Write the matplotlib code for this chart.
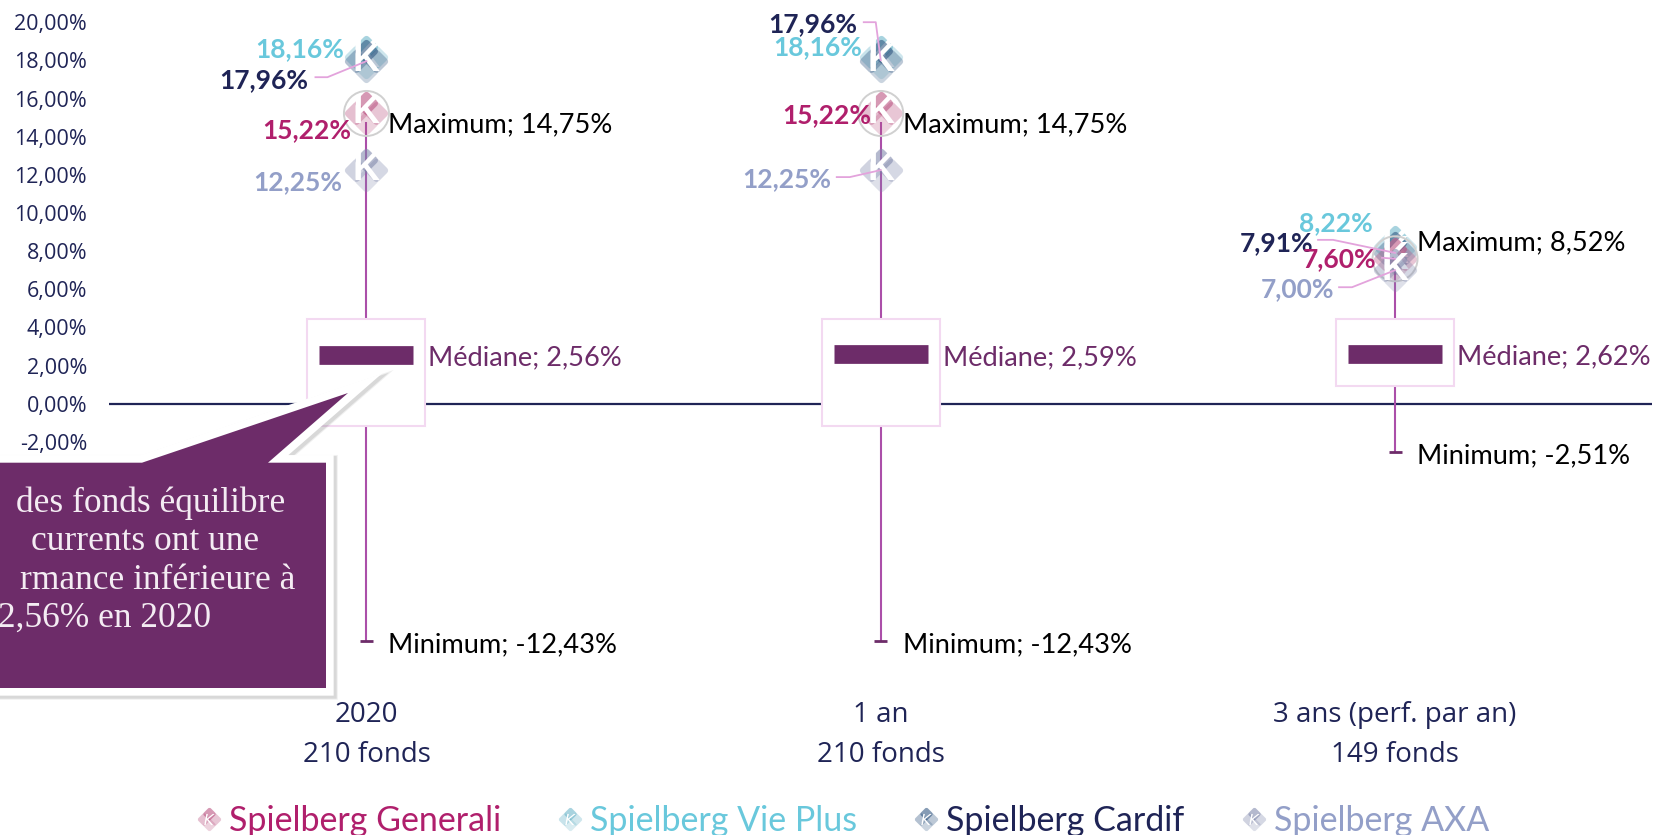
import matplotlib
matplotlib.use('Agg')
import matplotlib.pyplot as plt
import numpy as np
from matplotlib.legend_handler import HandlerTuple
from matplotlib.lines import Line2D
from matplotlib.patches import Polygon, Rectangle
from matplotlib.path import Path
from matplotlib.transforms import Affine2D

# Data
categories = ['2020', '1 an', '3 ans (perf. par an)']
fund_counts = [210, 210, 149]
maximum = [14.75, 14.75, 8.52]
minimum = [-12.43, -12.43, -2.51]
median = [2.56, 2.59, 2.62]
box_low = [-1.19, -1.19, 0.94]
box_high = [4.46, 4.46, 4.46]

spielberg_vie_plus = [18.16, 18.16, 8.22]
spielberg_cardif = [17.96, 17.96, 7.91]
spielberg_generali = [15.22, 15.22, 7.60]
spielberg_axa = [12.25, 12.25, 7.00]

y_ticks = [20, 18, 16, 14, 12, 10, 8, 6, 4, 2, 0, -2]

callout_lines = ['des fonds équilibre', 'currents ont une', 'rmance inférieure à', '2,56% en 2020']

# Layout, in pixels
W, H = 1655, 835
AX_LEFT, AX_RIGHT = 109.3, 1652.2
AX_TOP, AX_BOTTOM = 22.3, 670.7

NAVY = '#1f2456'
PURPLE = '#6d2c69'
WHISKER = '#ab4fa9'
LEADER = '#e3a3dc'

# name, values, text colour, marker colour
funds = [
    ('Spielberg Vie Plus', spielberg_vie_plus, '#69c8dc', '#69b4c8'),
    ('Spielberg Cardif', spielberg_cardif, NAVY, '#2f5580'),
    ('Spielberg Generali', spielberg_generali, '#b01f6c', '#b9507f'),
    ('Spielberg AXA', spielberg_axa, '#939fc8', '#7f87ab'),
]

# label offsets from each point: (dx, dy) to right edge / vertical centre, by fund then category
label_offsets = {
    'Spielberg Vie Plus': [(-22, 8), (-19, 10), (-22, 24)],
    'Spielberg Cardif': [(-58, -19), (-23, 37), (-82, 10)],
    'Spielberg Generali': [(-15, -17), (-10, -2), (-19, 0)],
    'Spielberg AXA': [(-24, -12), (-50, -9), (-61, -19)],
}

# leader lines, same offsets: list of points relative to the marker
leaders = {
    'Spielberg Cardif': [[(-51, -16), (-39, -16), (0, 0)], [(-17, 39), (-5, 39), (0, 1)], [(-77, 13), (-62, 13), (0, 0)]],
    'Spielberg Generali': [None, None, [(-13, 1), (0, 0)]],
    'Spielberg AXA': [None, [(-44, -7), (-31, -7), (0, 0)], [(-56, -17), (-43, -17), (0, 0)]],
}


def lobe(cx, cy):
    # one rounded diamond of the logo
    r = 0.56
    k = 0.12
    pts = [(cx - r + k, cy + k), (cx - k, cy + r - k), (cx, cy + r), (cx + k, cy + r - k),
           (cx + r - k, cy + k), (cx + r, cy), (cx + r - k, cy - k), (cx + k, cy - r + k),
           (cx, cy - r), (cx - k, cy - r + k), (cx - r + k, cy - k), (cx - r, cy), (cx - r + k, cy + k)]
    codes = [Path.MOVETO, Path.LINETO, Path.CURVE3, Path.CURVE3, Path.LINETO, Path.CURVE3, Path.CURVE3,
             Path.LINETO, Path.CURVE3, Path.CURVE3, Path.LINETO, Path.CURVE3, Path.CURVE3]
    return Path(pts, codes)


lobes = [(lobe(0, -0.44), 0.25), (lobe(-0.44, 0), 0.36), (lobe(0.44, 0), 0.32), (lobe(0, 0.44), 0.58)]


def pct(v):
    return f'{v:.2f}%'.replace('.', ',')


plt.rcParams['font.family'] = ['Lato', 'DejaVu Sans']

fig = plt.figure(figsize=(W / 100, H / 100), dpi=100)
ax = fig.add_axes([AX_LEFT / W, 1 - AX_BOTTOM / H, (AX_RIGHT - AX_LEFT) / W, (AX_BOTTOM - AX_TOP) / H])
ax.set_xlim(-0.5, 2.5)
ax.set_ylim(-14, 20)
for s in ax.spines.values():
    s.set_visible(False)

x = np.arange(len(categories))

ax.set_yticks(y_ticks)
ax.set_yticklabels([pct(v) for v in y_ticks], fontfamily='Open Sans', fontsize=15.5, color=NAVY)
ax.set_xticks(x)
ax.set_xticklabels([f'{c}\n{n} fonds' for c, n in zip(categories, fund_counts)],
                   fontfamily='Open Sans', fontsize=20, color=NAVY, linespacing=1.55)
ax.tick_params(axis='y', length=0, pad=16)
ax.tick_params(axis='x', length=0, pad=22)

ax.axhline(0, color=NAVY, lw=1.6, zorder=1)

box_width = 118 / 514.3
bar_half = 47 / 514.3
for i in x:
    ax.plot([i, i], [minimum[i], maximum[i]], color=WHISKER, lw=1.5, zorder=2, solid_capstyle='butt')
    ax.add_patch(Rectangle((i - box_width / 2, box_low[i]), box_width, box_high[i] - box_low[i],
                           facecolor='white', edgecolor='#f3d9f1', lw=1.5, zorder=3))
    ax.plot([i - 6.5 / 514.3, i + 6.5 / 514.3], [minimum[i], minimum[i]], color=PURPLE, lw=2, zorder=3,
            solid_capstyle='butt')
ax.hlines(median, x - bar_half, x + bar_half, color=PURPLE, lw=13.5, zorder=4)


def data_offset(i, v):
    # pixel transform centred on a data point
    px, py = ax.transData.transform((i, v))
    return Affine2D().translate(px, py)


# Logo markers, K and value labels
z = 5
for name, values, text_color, marker_color in funds:
    for i, v in zip(x, values):
        for path, alpha in lobes:
            ax.scatter([i], [v], marker=path, s=1100, color=marker_color, alpha=alpha, linewidths=0,
                       zorder=z, clip_on=False)
        if name == 'Spielberg Generali':
            ax.scatter([i], [v], s=1050, facecolors='none', edgecolors='#d0d0d0', linewidths=1.4, zorder=z,
                       clip_on=False)
        ax.text(i, v, 'K', color='white', fontweight='bold', fontsize=27, ha='center', va='center',
                fontfamily='Liberation Sans', zorder=z + 0.5)
        z += 1

for name, values, text_color, marker_color in funds:
    for i, v in zip(x, values):
        if name in leaders and leaders[name][i] is not None:
            xs, ys = zip(*leaders[name][i])
            ax.add_line(Line2D(xs, ys, color=LEADER, lw=1.3, transform=data_offset(i, v), zorder=60,
                               clip_on=False))
        ax.annotate(pct(v), (i, v), xytext=label_offsets[name][i], textcoords='offset pixels', ha='right',
                    va='center', color=text_color, fontweight='bold', fontsize=19, zorder=61)

# Maximum, minimum and median labels
for i in x:
    ax.annotate(f'Maximum; {pct(maximum[i])}', (i, maximum[i]), xytext=(22, -2), textcoords='offset pixels',
                va='center', color='black', fontsize=19.6, zorder=62)
    ax.annotate(f'Minimum; {pct(minimum[i])}', (i, minimum[i]), xytext=(22, -4), textcoords='offset pixels',
                va='center', color='black', fontsize=19.6, zorder=62)
    ax.annotate(f'Médiane; {pct(median[i])}', (i, median[i]), xytext=(62, -3), textcoords='offset pixels',
                va='center', color=PURPLE, fontsize=19.6, zorder=62)

# Callout, in figure pixels with the origin top left
px = Affine2D().scale(1, -1).translate(0, H)
callout = [(-20, 462.7), (142, 462.7), (348, 393), (268, 462.7), (326, 462.7), (326, 688), (-20, 688)]
shadow = [(a + 2, b + 2) for a, b in callout]
for lw, alpha in [(14, 0.1), (12.5, 0.16)]:
    ax.add_patch(Polygon(shadow, closed=True, transform=px, facecolor='#666666', edgecolor='#666666', lw=lw,
                         alpha=alpha, zorder=70, clip_on=False, joinstyle='miter'))
ax.add_patch(Polygon(callout, closed=True, transform=px, facecolor='white', edgecolor='white', lw=11, zorder=71,
                     clip_on=False, joinstyle='miter'))
ax.add_patch(Polygon(callout, closed=True, transform=px, facecolor=PURPLE, edgecolor='none', zorder=72,
                     clip_on=False))
callout_right = [285, 259, 295, 211]
callout_base = [512, 550, 589, 627]
for line, r, b in zip(callout_lines, callout_right, callout_base):
    ax.text(r, b, line, transform=px, ha='right', va='baseline', color='#f4ecf3', fontfamily='Liberation Serif',
            fontsize=25.5, zorder=73)

# Legend
handles = []
labels = []
legend_colors = []
for name in ['Spielberg Generali', 'Spielberg Vie Plus', 'Spielberg Cardif', 'Spielberg AXA']:
    fund = [f for f in funds if f[0] == name][0]
    parts = [Line2D([], [], ls='none', marker=path, markersize=25 * 0.72, markerfacecolor=fund[3], alpha=alpha,
                     markeredgewidth=0) for path, alpha in lobes]
    parts.append(Line2D([], [], ls='none', marker='$K$', markersize=8, color='white', markeredgewidth=0))
    handles.append(tuple(parts))
    labels.append(name)
    legend_colors.append(fund[2])

fig.legend(handles, labels, loc='center', bbox_to_anchor=(842 / W, 1 - 821 / H), ncol=4, frameon=False,
           fontsize=24.5, labelcolor=legend_colors, handler_map={tuple: HandlerTuple(ndivide=1, pad=0)},
           handlelength=0.8, handletextpad=0.19, columnspacing=1.63, borderpad=0, borderaxespad=0)

fig.savefig('out.png', dpi=100)
